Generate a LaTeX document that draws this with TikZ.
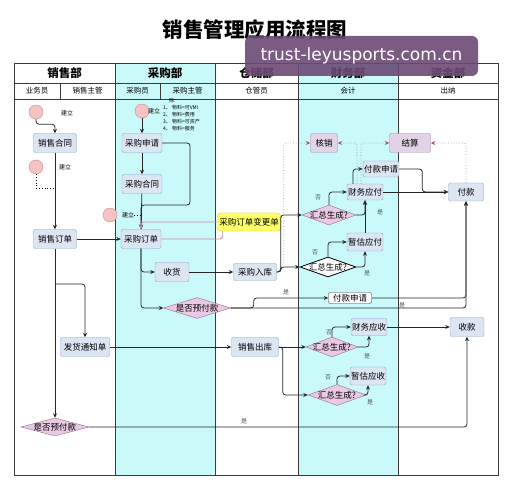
\documentclass[tikz,border=0pt]{standalone}
\usepackage{fontspec}
\setmainfont{Noto Sans CJK SC}
\newfontfamily\wmfont{DejaVu Sans}
\usepackage{xcolor}
\usepackage{tikz}
\usetikzlibrary{shapes.geometric,arrows.meta}

\definecolor{lanecyan}{HTML}{C9F9F9}
\definecolor{boxfill}{HTML}{DCE5F2}
\definecolor{boxline}{HTML}{8DA3C4}
\definecolor{purfill}{HTML}{E2D3E6}
\definecolor{purline}{HTML}{9F88A8}
\definecolor{decfill}{HTML}{E9C9E3}
\definecolor{decline}{HTML}{8E6F8E}
\definecolor{startfill}{HTML}{F5C3C3}
\definecolor{startline}{HTML}{C98A8A}
\definecolor{notefill}{HTML}{FFFF66}
\definecolor{noteline}{HTML}{C8C850}
\definecolor{pinkline}{HTML}{D08AA0}
\definecolor{gridline}{HTML}{3A3A3A}
\definecolor{wmfill}{HTML}{6B4A74}
\definecolor{lblcol}{HTML}{4A5A6A}
\definecolor{dotcol}{HTML}{A0A0A0}
\definecolor{dottip}{HTML}{B05060}

\begin{document}
\begin{tikzpicture}[x=1pt,y=-1pt,
    >={Stealth[length=4.5pt,width=4pt]},
    grid/.style={draw=gridline,line width=0.9pt},
    box/.style={draw=boxline,fill=boxfill,rounded corners=2pt,inner sep=1pt,
        minimum width=#1,minimum height=19pt,font=\fontsize{8.5}{9}\selectfont},
    box/.default=40pt,
    pbox/.style={box=#1,draw=purline,fill=purfill},
    wbox/.style={box=#1,draw=gridline,fill=white,minimum height=11pt},
    ybox/.style={box=#1,draw=noteline,fill=notefill,rounded corners=4pt},
    dec/.style={diamond,draw=decline,fill=decfill,inner sep=0pt,
        minimum width=#1,minimum height=20pt},
    dec/.default=54pt,
    dtext/.style={font=\fontsize{8.5}{9}\selectfont,inner sep=0pt},
    start/.style={circle,draw=startline,fill=startfill,minimum size=14pt,inner sep=0pt},
    flow/.style={->,draw=black!85,line width=0.8pt,rounded corners=3pt},
    pinkflow/.style={flow,draw=pinkline},
    dotline/.style={draw=dotcol,dotted,line width=0.8pt,rounded corners=2pt,
        -{Stealth[length=4.5pt,width=4pt,color=dottip]}},
    lbl/.style={font=\fontsize{6}{6}\selectfont,text=lblcol,inner sep=0pt},
    head/.style={font=\fontsize{11.5}{12}\bfseries,inner sep=0pt},
    subhead/.style={font=\fontsize{7.5}{8}\selectfont,inner sep=0pt}]
    \useasboundingbox (0,0) rectangle (512,489);
    % Lanes
    \fill[lanecyan] (115,63) rectangle (215,475);
    \fill[lanecyan] (298,63) rectangle (398,475);
    \draw[grid] (14,63) rectangle (498,475);
    \draw[grid] (14,83) -- (498,83);
    \draw[grid] (14,99) -- (498,99);
    \foreach \x in {115,215,298,398} \draw[grid] (\x,63) -- (\x,475);
    \foreach \x in {60,160} \draw[grid] (\x,83) -- (\x,99);
    % Title and header
    \node[font=\fontsize{20.5}{22}\bfseries] (ttl) at (255,30) {销售管理应用流程图};
    \node[head] (h1) at (64.5,73) {销售部};
    \node[head] (h2) at (165,73) {采购部};
    \node[head] (h3) at (256.5,73) {仓储部};
    \node[head] (h4) at (348,73) {财务部};
    \node[head] (h5) at (448,73) {资金部};
    \node[subhead] (s1) at (37,91) {业务员};
    \node[subhead] (s2) at (87.5,91) {销售主管};
    \node[subhead] (s3) at (137.5,91) {采购员};
    \node[subhead] (s4) at (187.5,91) {采购主管};
    \node[subhead] (s5) at (256.5,91) {仓管员};
    \node[subhead] (s6) at (348,91) {会计};
    \node[subhead] (s7) at (448,91) {出纳};
    % Sales
    \node[start] (c1) at (36,112) {};
    \node[lbl,text=black] (c1l) at (67,113) {建立};
    \node[box=43pt] (xsht) at (55,143) {销售合同};
    \node[start] (c2) at (36,167) {};
    \node[lbl,text=black] (c2l) at (65,167) {建立};
    \node[box=43pt] (xsdd) at (55,239) {销售订单};
    \node[box=49pt] (fhtz) at (85,347) {发货通知单};
    \node[dec=68pt,minimum height=18pt,label={[dtext]center:是否预付款}] (yfk2) at (55,427) {};
    % Purchase
    \node[start] (c3) at (142,111) {};
    \node[lbl,text=black] (c3l) at (154,111) {建立};
    \node[lbl,text=black,align=left,anchor=north west,font=\fontsize{5}{7}\selectfont] (note) at (163,98)
        {\hspace*{6pt}除:\\1、 物料=可VMI\\2、 物料=费用\\3、 物料=可资产\\4、 物料=服务};
    \node[box] (cgsq) at (142,143) {采购申请};
    \node[box] (cght) at (142,184) {采购合同};
    \node[start] (c4) at (110,215) {};
    \node[lbl,text=black] (c4l) at (128,215) {建立};
    \coordinate (j3) at (141,215);
    \node[box] (cgdd) at (141,239) {采购订单};
    \node[box=34pt] (sh) at (172,272) {收货};
    \node[dec=67pt,minimum height=21pt,label={[dtext]center:是否预付款}] (yfk1) at (197,308) {};
    % Warehouse
    \node[ybox=64pt,minimum height=18pt] (bgd) at (249,222) {采购订单变更单};
    \node[box=43pt,minimum height=17pt] (cgrk) at (255,272) {采购入库};
    \node[box=47pt] (xsck) at (255,347) {销售出库};
    % Finance
    \node[pbox=27pt] (hx) at (324,143) {核销};
    \node[pbox=41pt] (js) at (410,143) {结算};
    \node[box=35pt,minimum height=16pt] (fksq1) at (381,169) {付款申请};
    \node[box=34pt,minimum height=16pt] (cwyf) at (365,192) {财务应付};
    \node[dec,label={[dtext]center:汇总生成?}] (hz1) at (329,215) {};
    \node[box=35pt,minimum height=18pt] (zgyf) at (365,242) {暂估应付};
    \node[dec=56pt,draw=black,fill=white,line width=0.8pt,label={[dtext]center:汇总生成?}] (hz2) at (328,267) {};
    \node[wbox=43pt] (fksq2) at (350,298) {付款申请};
    \node[box=34pt,minimum height=17pt] (cwys) at (369,327) {财务应收};
    \node[dec=52pt,label={[dtext]center:汇总生成?}] (hz3) at (332,347) {};
    \node[box=35pt,minimum height=18pt] (zgys) at (368,376) {暂估应收};
    \node[dec=58pt,minimum height=21pt,label={[dtext]center:汇总生成?}] (hz4) at (337,395) {};
    % Cash
    \node[box=35pt,minimum height=18pt] (fk) at (466,192) {付款};
    \node[box=34pt] (sk) at (467,327) {收款};
    % Sales edges
    \coordinate (j1) at (55,188);
    \coordinate (j2) at (55,284);
    \draw[flow] (c1.south) -- ++(0,5) -| (xsht.north);
    \draw[flow] (xsht) -- (xsdd);
    \draw[line width=0.8pt,dotted] (c2.south) |- (j1);
    \draw[flow] (xsdd) -- (cgdd);
    \draw[flow] (xsdd) -- (yfk2);
    \draw[flow] (j2) -| (fhtz.north);
    \draw[flow] (fhtz) -- (xsck);
    \draw[flow] (yfk2.east) -| (sk.south);
    % Purchase edges
    \draw[flow] (c3) -- (cgsq);
    \draw[flow] (cgsq) -- (cght);
    \draw[flow] (cgsq.east) -| (190,205) -| (cgdd.north);
    \draw[flow] (cght) -- (cgdd);
    \draw[line width=0.8pt,dotted] (c4l.east) -- (j3);
    \draw[pinkflow] (bgd.west) -| (cgdd.north);
    \draw[pinkline,line width=0.8pt,rounded corners=3pt] (cgdd.east) -| ([xshift=6pt]bgd.south west);
    \draw[flow] (cgdd.south) |- (sh.west);
    \draw[flow] (cgdd.south) |- (yfk1.west);
    \draw[flow] (sh) -- (cgrk);
    \draw[flow] (yfk1.east) -- ++(23,0) |- (fksq2.west);
    \draw[flow] (yfk1.east) -| (fk.south);
    % Warehouse edges
    \draw[flow] (cgrk.east) -- ++(4,0) |- (hz2.west);
    \draw[flow] (cgrk.east) -- ++(4,0) |- (hz1.west);
    \draw[dotline] ([xshift=7pt]cgrk.north east) |- (hx.west);
    \draw[flow] (xsck) -- (hz3);
    \draw[flow] (xsck.east) -- ++(4,0) |- (hz4.west);
    % Finance edges
    \draw[flow] (hz1.north) |- (cwyf.west);
    \draw[flow] (hz1.east) -| (cwyf.south);
    \draw[flow] (zgyf) -- (cwyf);
    \draw[flow] (hz2.north) |- (zgyf.west);
    \draw[flow] (hz2.east) -| (zgyf.south);
    \draw[flow] ([xshift=-12pt]cwyf.north) |- (fksq1.west);
    \draw[flow] (cwyf) -- (fk);
    \draw[flow] (fksq1.east) -| ([xshift=-26pt]fk.west) -- (fk.west);
    \draw[dotline] ([xshift=-8pt]cwyf.north) |- (hx.east);
    \draw[dotline] ([xshift=-4pt]cwyf.north) |- (js.west);
    \draw[dotline] (fk.north) |- (js.east);
    \draw[flow] (fksq2.east) -| (fk.south);
    \draw[flow] (hz3.north) |- (cwys.west);
    \draw[flow] (hz3.east) -| (cwys.south);
    \draw[flow] (hz4.north) |- (zgys.west);
    \draw[flow] (hz4.east) -| (zgys.south);
    \draw[flow] (cwys) -- (sk);
    % Yes / no
    \node[lbl] (l1) at (318,197) {否};
    \node[lbl] (l2) at (380,212) {是};
    \node[lbl] (l3) at (315,252) {否};
    \node[lbl] (l4) at (367,273) {是};
    \node[lbl] (l5) at (286,292) {是};
    \node[lbl] (l6) at (402,305) {是};
    \node[lbl] (l7) at (329,332) {否};
    \node[lbl] (l8) at (367,356) {是};
    \node[lbl] (l9) at (328,377) {否};
    \node[lbl] (l10) at (370,402) {是};
    \node[lbl] (l11) at (244,421) {是};
    % Watermark
    \node[fill=wmfill,fill opacity=0.9,text opacity=1,text=white,rounded corners=6pt,
        minimum width=233pt,minimum height=40pt,font=\wmfont\fontsize{17}{17}\selectfont] (wm)
        at (361.5,56) {trust-leyusports.com.cn};
\end{tikzpicture}
\end{document}
